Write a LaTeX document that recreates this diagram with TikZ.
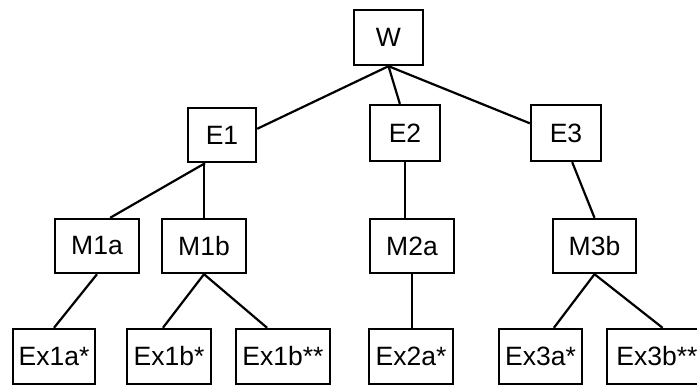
\documentclass[tikz,border=0pt]{standalone}
\usepackage{fontspec}
\setmainfont{Liberation Sans}
\begin{document}
\begin{tikzpicture}[x=1pt,y=-1pt,
  box/.style={draw=black,line width=2.4pt,rectangle,inner sep=0pt,minimum height=55pt,
    font=\fontsize{26.5}{31}\selectfont},
  link/.style={draw=black,line width=2.2pt}]
\useasboundingbox (0,0) rectangle (697,387);
\clip (0,0) rectangle (697,387);
\node[box,minimum width=69pt] (W) at (388.5,37.5) {W};
\node[box,minimum width=68pt,minimum height=54pt] (E1) at (222,135) {E1};
\node[box,minimum width=70pt,minimum height=56pt] (E2) at (405,133) {E2};
\node[box,minimum width=70pt,minimum height=56pt] (E3) at (566,133) {E3};
\node[box,minimum width=84pt,minimum height=54pt] (M1a) at (97,246) {M1a};
\node[box,minimum width=84pt,minimum height=54pt] (M1b) at (204,246) {M1b};
\node[box,minimum width=84pt,minimum height=54pt] (M2a) at (412,246) {M2a};
\node[box,minimum width=83pt,minimum height=54pt] (M3b) at (594.5,246) {M3b};
\node[box,minimum width=82pt] (x1a) at (54,356.5) {Ex1a*};
\node[box,minimum width=84pt] (x1b) at (169,356.5) {Ex1b*};
\node[box,minimum width=94pt] (x1bb) at (283,356.5) {Ex1b**};
\node[box,minimum width=84pt] (x2a) at (411,356.5) {Ex2a*};
\node[box,minimum width=83pt] (x3a) at (540.5,356.5) {Ex3a*};
\node[box,minimum width=100pt] (x3bb) at (657,356.5) {Ex3b**};
\draw[link] (W.south) -- (E1.10);
\draw[link] (W.south) -- (E2.100);
\draw[link] (W.south) -- (E3.165);
\draw[link] (E1.239) -- (M1a.65);
\draw[link] (M1b.north) -- (M1b.north |- E1.south);
\draw[link] (E2.south) -- (E2.south |- M2a.north);
\draw[link] (E3.282) -- (M3b.north);
\draw[link] (M1a.south) -- (x1a.north);
\draw[link] (M1b.south) -- (x1b.102);
\draw[link] (M1b.south) -- (x1bb.119);
\draw[link] (M2a.south) -- (M2a.south |- x2a.north);
\draw[link] (M3b.south) -- (x3a.65);
\draw[link] (M3b.south) -- (x3bb.79);
\end{tikzpicture}
\end{document}
